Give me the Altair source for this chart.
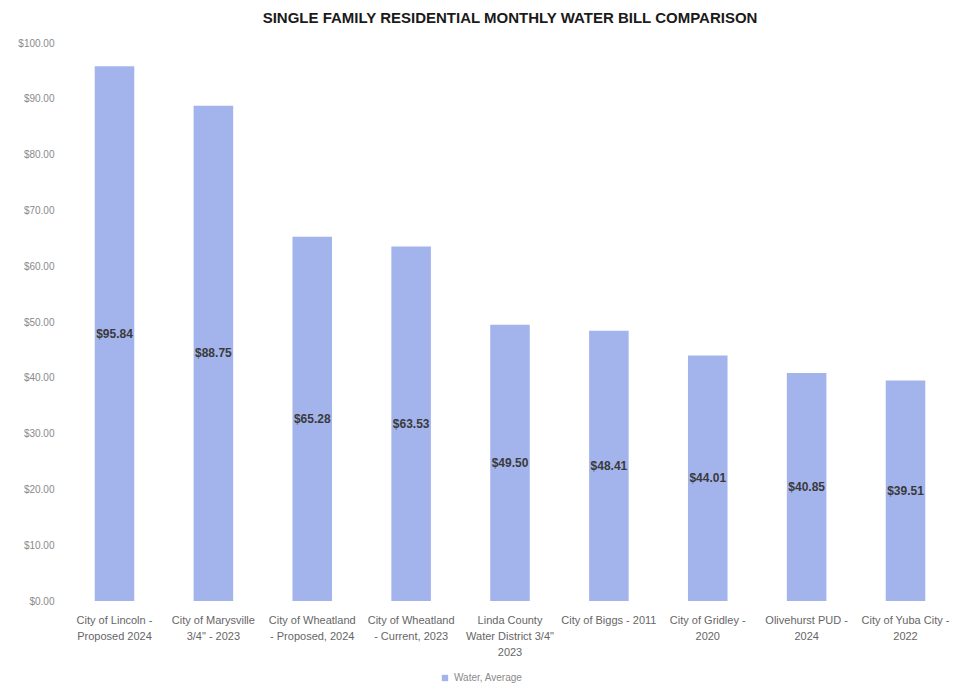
import altair as alt
import pandas as pd

categories = [
    "City of Lincoln -\nProposed 2024",
    "City of Marysville\n3/4\" - 2023",
    "City of Wheatland\n- Proposed, 2024",
    "City of Wheatland\n- Current, 2023",
    "Linda County\nWater District 3/4\"\n2023",
    "City of Biggs - 2011",
    "City of Gridley -\n2020",
    "Olivehurst PUD -\n2024",
    "City of Yuba City -\n2022",
]
values = [95.84, 88.75, 65.28, 63.53, 49.50, 48.41, 44.01, 40.85, 39.51]
series = ["Water, Average"] * len(categories)

df = pd.DataFrame({"name": categories, "bill": values, "series": series})
df["label"] = df["bill"].map(lambda v: f"${v:.2f}")

BAR = "#A3B4EC"
LBL = "#666666"
FONT = "Liberation Sans"

x = alt.X(
    "name:N",
    sort=categories,
    title=None,
    scale=alt.Scale(paddingInner=0.6, paddingOuter=0.25),
    axis=alt.Axis(
        labelExpr="split(datum.label, '\\n')",
        labelAngle=0,
        labelFont=FONT,
        labelFontSize=11,
        labelColor=LBL,
        labelLineHeight=16,
        labelPadding=13,
        domain=False,
        ticks=False,
        grid=False,
        labelLimit=200,
    ),
)

bars = alt.Chart(df).mark_bar(color=BAR).encode(
    x=x,
    y=alt.Y(
        "bill:Q",
        title=None,
        scale=alt.Scale(domain=[0, 100]),
        axis=alt.Axis(
            values=list(range(0, 101, 10)),
            labelExpr="'$' + format(datum.value, '.2f')",
            labelFont=FONT,
            labelFontSize=10,
            labelColor="#8a8a8a",
            labelPadding=16,
            domain=False,
            ticks=False,
            grid=False,
        ),
    ),
    fill=alt.Fill(
        "series:N",
        scale=alt.Scale(range=[BAR]),
        legend=alt.Legend(
            title=None,
            orient="none",
            legendX=370,
            legendY=630,
            symbolType="square",
            symbolSize=40,
            labelFont=FONT,
            labelFontSize=10,
            labelColor="#8a8a8a",
        ),
    ),
)

text = alt.Chart(df).mark_text(
    font=FONT,
    fontSize=12,
    fontWeight="bold",
    color="#3a3a3a",
).encode(
    x=alt.X("name:N", sort=categories),
    y=alt.Y("mid:Q"),
    text="label:N",
).transform_calculate(mid="datum.bill / 2")

chart = (
    alt.layer(bars, text)
    .properties(
        width=880,
        height=558,
        background="white",
        title=alt.TitleParams(
            "SINGLE FAMILY RESIDENTIAL MONTHLY WATER BILL COMPARISON",
            font=FONT,
            fontSize=15,
            fontWeight="bold",
            color="#1a1a1a",
            anchor="middle",
            offset=12,
        ),
        autosize=alt.AutoSizeParams(type="none"),
        padding={"left": 62, "top": 35, "right": 3, "bottom": 88},
    )
    .configure_view(stroke=None, strokeWidth=0)
)

chart.save("out.html", embed_options={"renderer": "svg", "actions": False})
